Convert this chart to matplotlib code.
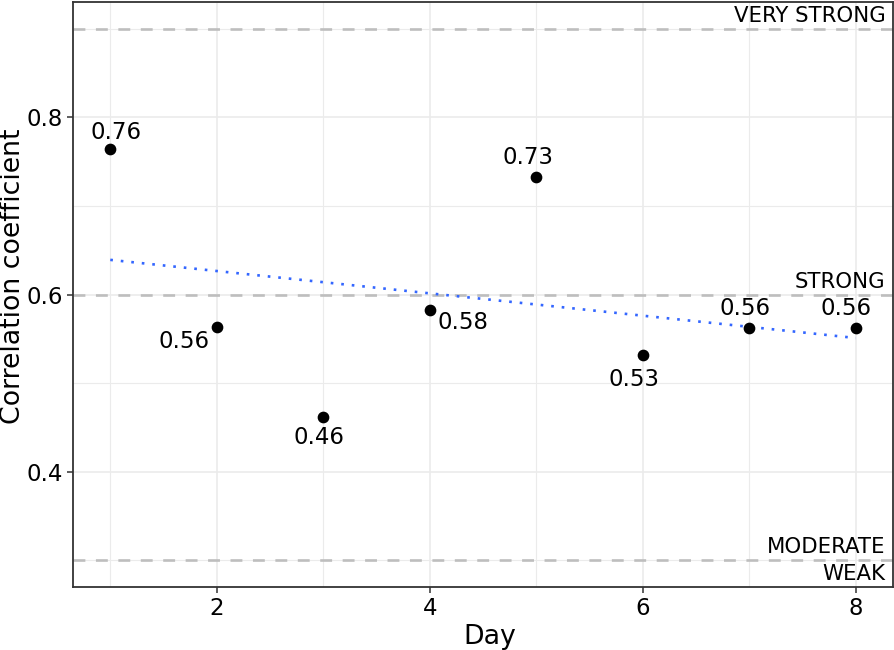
import numpy as np
import matplotlib
matplotlib.use("Agg")
import matplotlib.pyplot as plt

days = [1, 2, 3, 4, 5, 6, 7, 8]
corr = [0.764, 0.563, 0.462, 0.582, 0.733, 0.532, 0.562, 0.562]
labels = ["0.76", "0.56", "0.46", "0.58", "0.73", "0.53", "0.56", "0.56"]
# label offsets in pixels (ggrepel-ish placement)
label_dx = [6, -33, -4, 33, -8, -9, -4, -10]
label_dy = [17, -14, -21, -12, 19, -25, 20, 20]

thresholds = [0.3, 0.6, 0.9]
band_names = ["VERY STRONG", "STRONG", "MODERATE", "WEAK"]
band_y = [0.9, 0.6, 0.3, 0.3]
band_va = ["bottom", "bottom", "bottom", "top"]

plt.rcParams['font.family'] = ['DejaVu Sans']
W, H = 895, 650
fig = plt.figure(figsize=(W / 100, H / 100), dpi=100)
ax = fig.add_axes([73 / W, 1 - 587 / H, 820 / W, 585 / H])

# grid, theme_bw style
ax.set_xticks([1, 3, 5, 7], minor=True)
ax.set_yticks([0.3, 0.5, 0.7, 0.9], minor=True)
ax.grid(True, which='major', color='#EBEBEB', linewidth=1.2, zorder=0)
ax.grid(True, which='minor', color='#EBEBEB', linewidth=0.8, zorder=0)
ax.set_axisbelow(True)

for t in thresholds:
    ax.axhline(t, color='#BEBEBE', linewidth=1.9, dashes=(4.5, 4), zorder=1)

for name, y, va in zip(band_names, band_y, band_va):
    off = 3 if va == 'bottom' else -4
    ax.annotate(name, (8.28, y), xytext=(0, off), textcoords='offset pixels',
                ha='right', va=va, fontsize=15.3, color='black')

# linear trend
k, b = np.polyfit(days, corr, 1)
xs = np.array([min(days), max(days)])
ax.plot(xs, k * xs + b, color='#3366FF', linewidth=1.9, dashes=(1, 3),
        zorder=2)

ax.scatter(days, corr, s=55, color='black', zorder=3)
for x, y, lab, dx, dy in zip(days, corr, labels, label_dx, label_dy):
    ax.annotate(lab, (x, y), xytext=(dx, dy), textcoords='offset pixels',
                ha='center', va='center', fontsize=16.5, zorder=4)

ax.set_xlim(0.65, 8.35)
ax.set_ylim(0.27, 0.93)
ax.set_xticks([2, 4, 6, 8])
ax.set_yticks([0.4, 0.6, 0.8])
ax.set_yticklabels(["0.4", "0.6", "0.8"])
ax.tick_params(axis='both', which='major', labelsize=16.5, length=4,
               color='#333333', width=1.1, pad=3)
ax.tick_params(which='minor', length=0)
for s in ax.spines.values():
    s.set_color('#333333')
    s.set_linewidth(1.3)

fig.text(490 / W, 1 - 637 / H, "Day", fontsize=19.3, ha='center', va='center')
fig.text(13 / W, 1 - 276 / H, "Correlation coefficient", fontsize=19.3,
         rotation=90, ha='center', va='center')

fig.savefig("out.png", dpi=100)
